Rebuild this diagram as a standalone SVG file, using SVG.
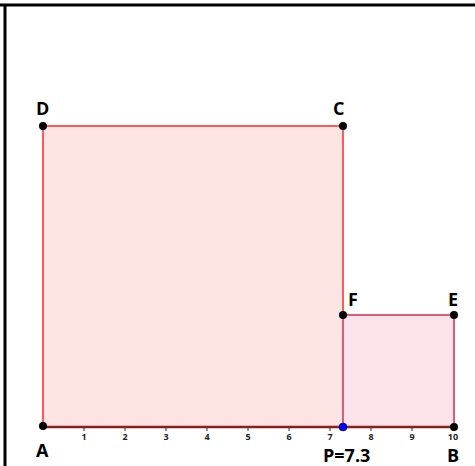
<svg xmlns="http://www.w3.org/2000/svg" width="475" height="466" viewBox="0 0 475 466">
<style>
.lbl{font-family:"Open Sans","Noto Sans",sans-serif;font-weight:bold;font-size:18px;fill:#000}
.tick{font-family:"Open Sans","Noto Sans",sans-serif;font-weight:bold;font-size:9px;fill:#222;text-anchor:middle}
.pt{fill:#000}
</style>
<rect width="475" height="466" fill="#fff"/>
<g id="frame" stroke="#000" stroke-width="3" fill="none">
<line x1="0" y1="5" x2="475" y2="5"/>
<line x1="5" y1="4" x2="5" y2="466"/>
</g>
<g id="squareABCD">
<rect x="43" y="126" width="300" height="301" fill="#ffe4e4" stroke="#ff5a5a" stroke-width="2"/>
</g>
<g id="squarePBEF">
<rect x="343" y="315" width="111" height="112" fill="#fce4ea" stroke="#e35a78" stroke-width="2"/>
</g>
<g id="connectors">
<line x1="43" y1="427" x2="455" y2="427" stroke="#8a1f1f" stroke-width="2.5"/>
<g stroke="#333" stroke-width="1">
<line x1="84" y1="428" x2="84" y2="431"/>
<line x1="125" y1="428" x2="125" y2="431"/>
<line x1="166" y1="428" x2="166" y2="431"/>
<line x1="207" y1="428" x2="207" y2="431"/>
<line x1="248" y1="428" x2="248" y2="431"/>
<line x1="289" y1="428" x2="289" y2="431"/>
<line x1="330" y1="428" x2="330" y2="431"/>
<line x1="371" y1="428" x2="371" y2="431"/>
<line x1="412" y1="428" x2="412" y2="431"/>
</g>
</g>
<g id="ticks">
<text class="tick" x="84" y="440">1</text>
<text class="tick" x="125" y="440">2</text>
<text class="tick" x="166" y="440">3</text>
<text class="tick" x="207" y="440">4</text>
<text class="tick" x="248" y="440">5</text>
<text class="tick" x="289" y="440">6</text>
<text class="tick" x="330" y="440">7</text>
<text class="tick" x="371" y="440">8</text>
<text class="tick" x="412" y="440">9</text>
<text class="tick" x="453" y="440">10</text>
</g>
<g id="A"><circle class="pt" cx="43" cy="426" r="4"/><text class="lbl" x="36" y="457">A</text></g>
<g id="B"><circle class="pt" cx="454" cy="427" r="4"/><text class="lbl" x="447" y="462">B</text></g>
<g id="C"><circle class="pt" cx="343" cy="126" r="4"/><text class="lbl" x="333" y="115">C</text></g>
<g id="D"><circle class="pt" cx="43" cy="126" r="4"/><text class="lbl" x="36" y="115">D</text></g>
<g id="E"><circle class="pt" cx="454" cy="315" r="4"/><text class="lbl" x="448" y="306">E</text></g>
<g id="F"><circle class="pt" cx="343" cy="315" r="4"/><text class="lbl" x="348" y="306">F</text></g>
<g id="P"><circle cx="343" cy="427" r="4" fill="#0000ff" stroke="#000" stroke-width="0.5"/><text class="lbl" x="323" y="462">P=7.3</text></g>
</svg>
